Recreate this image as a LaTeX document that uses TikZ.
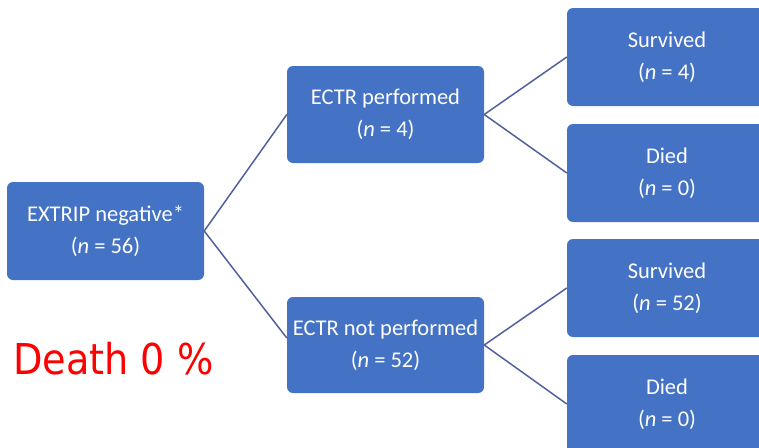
\documentclass[tikz,border=0pt]{standalone}
\usepackage{fontspec}
\setmainfont{Carlito}
\newfontfamily\deathfont[FakeStretch=0.9]{DejaVu Sans}
\definecolor{boxblue}{RGB}{68,114,196}
\definecolor{linecol}{RGB}{80,96,156}
\definecolor{deathred}{RGB}{255,0,0}
\begin{document}
\begin{tikzpicture}[x=1pt,y=-1pt,
  bx/.style={fill=boxblue, rounded corners=6pt, inner sep=0pt, text=white,
    align=center, font=\fontsize{22.5}{32}\selectfont},
  conn/.style={draw=linecol, line width=1.5pt}]
\useasboundingbox (0,0) rectangle (759,447);
\begin{scope}
\clip (0,0) rectangle (759,447);
\node[bx, minimum width=197pt, minimum height=98pt] (root) at (105.5,231) {EXTRIP negative*\\(\textit{n} = 56)};
\node[bx, minimum width=197pt, minimum height=97pt] (perf) at (385.5,114.5) {ECTR performed\\(\textit{n} = 4)};
\node[bx, minimum width=197pt, minimum height=96pt] (notperf) at (385.5,345) {ECTR not performed\\(\textit{n} = 52)};
\node[bx, minimum width=200pt, minimum height=98pt] (surv1) at (667,57) {Survived\\(\textit{n} = 4)};
\node[bx, minimum width=200pt, minimum height=98pt] (died1) at (667,173) {Died\\(\textit{n} = 0)};
\node[bx, minimum width=200pt, minimum height=98pt] (surv2) at (667,288) {Survived\\(\textit{n} = 52)};
\node[bx, minimum width=200pt, minimum height=98pt] (died2) at (667,404) {Died\\(\textit{n} = 0)};
\end{scope}
\draw[conn] (root.east) -- (perf.west);
\draw[conn] (root.east) -- ([yshift=7pt]notperf.west);
\draw[conn] (perf.east) -- (surv1.west);
\draw[conn] (perf.east) -- (died1.west);
\draw[conn] (notperf.east) -- (surv2.west);
\draw[conn] (notperf.east) -- (died2.west);
\node[anchor=base, inner sep=0pt, text=deathred, font=\deathfont\fontsize{42.5}{42.5}\selectfont] (death) at (113.5,374) {Death 0 \%};
\end{tikzpicture}
\end{document}
